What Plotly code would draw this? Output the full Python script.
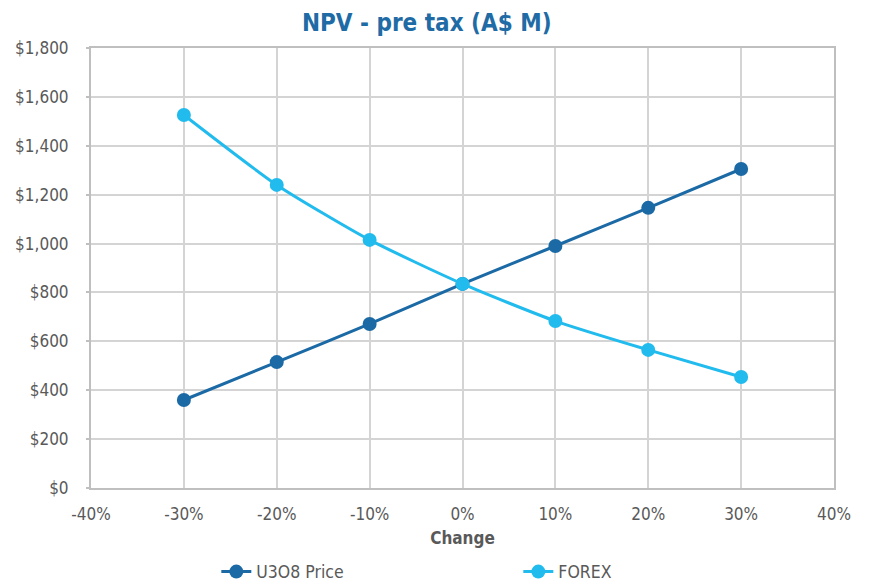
import plotly.graph_objects as go

changes = [-0.30, -0.20, -0.10, 0.0, 0.10, 0.20, 0.30]
u3o8_price = [360, 515, 671, 835, 990, 1146, 1305]
forex = [1526, 1240, 1015, 835, 683, 565, 454]

x_ticks = [-0.4, -0.3, -0.2, -0.1, 0.0, 0.1, 0.2, 0.3, 0.4]
x_tick_labels = ["-40%", "-30%", "-20%", "-10%", "0%", "10%", "20%", "30%", "40%"]
y_ticks = [0, 200, 400, 600, 800, 1000, 1200, 1400, 1600, 1800]
y_tick_labels = ["$0", "$200", "$400", "$600", "$800", "$1,000", "$1,200", "$1,400", "$1,600", "$1,800"]

FONT = "DejaVu Sans Condensed, Liberation Sans, Arial, sans-serif"
DARK = "#1B6AA5"
LIGHT = "#22BBEE"
TXT = "#595959"

fig = go.Figure()
fig.add_trace(go.Scatter(x=changes, y=u3o8_price, name="U3O8 Price", mode="lines+markers",
                         line=dict(color=DARK, width=3, shape="spline", smoothing=0.6),
                         marker=dict(size=14, color=DARK)))
fig.add_trace(go.Scatter(x=changes, y=forex, name="FOREX", mode="lines+markers",
                         line=dict(color=LIGHT, width=3, shape="spline", smoothing=0.6),
                         marker=dict(size=14, color=LIGHT)))

fig.update_layout(
    width=858, height=577,
    margin=dict(l=83, r=32, t=40, b=97, autoexpand=False),
    paper_bgcolor="white", plot_bgcolor="white",
    font=dict(family=FONT, color=TXT, size=16),
    title=dict(text="<b>NPV - pre tax (A$ M)</b>", x=0.488, xanchor="center", y=0.9745, yanchor="middle",
               font=dict(family=FONT, size=24, color="#1F6BA5")),
    xaxis=dict(range=[-0.4, 0.4], tickvals=x_ticks, ticktext=x_tick_labels,
               showgrid=True, gridcolor="#D4D4D4", gridwidth=2, automargin=False,
               zeroline=False, showline=True, linecolor="#BFBFBF", linewidth=2, mirror=True,
               ticks="", ticklabelstandoff=10,
               title=dict(text="<b>Change</b>", font=dict(family=FONT, size=17, color=TXT), standoff=9),
               tickfont=dict(family=FONT, size=17, color=TXT)),
    yaxis=dict(range=[0, 1800], tickvals=y_ticks, ticktext=y_tick_labels,
               showgrid=True, gridcolor="#D4D4D4", gridwidth=2, automargin=False,
               zeroline=False, showline=True, linecolor="#BFBFBF", linewidth=2, mirror=True,
               ticks="outside", ticklen=3, tickcolor="#BFBFBF", tickwidth=2, ticklabelstandoff=14,
               tickfont=dict(family=FONT, size=17, color=TXT)),
    legend=dict(orientation="h", xref="container", yref="container", x=0.2428, xanchor="left",
                y=0.0542, yanchor="top",
                font=dict(family=FONT, size=17.5, color=TXT),
                entrywidth=257, entrywidthmode="pixels"),
    showlegend=True,
)

fig.write_html("out.html")
